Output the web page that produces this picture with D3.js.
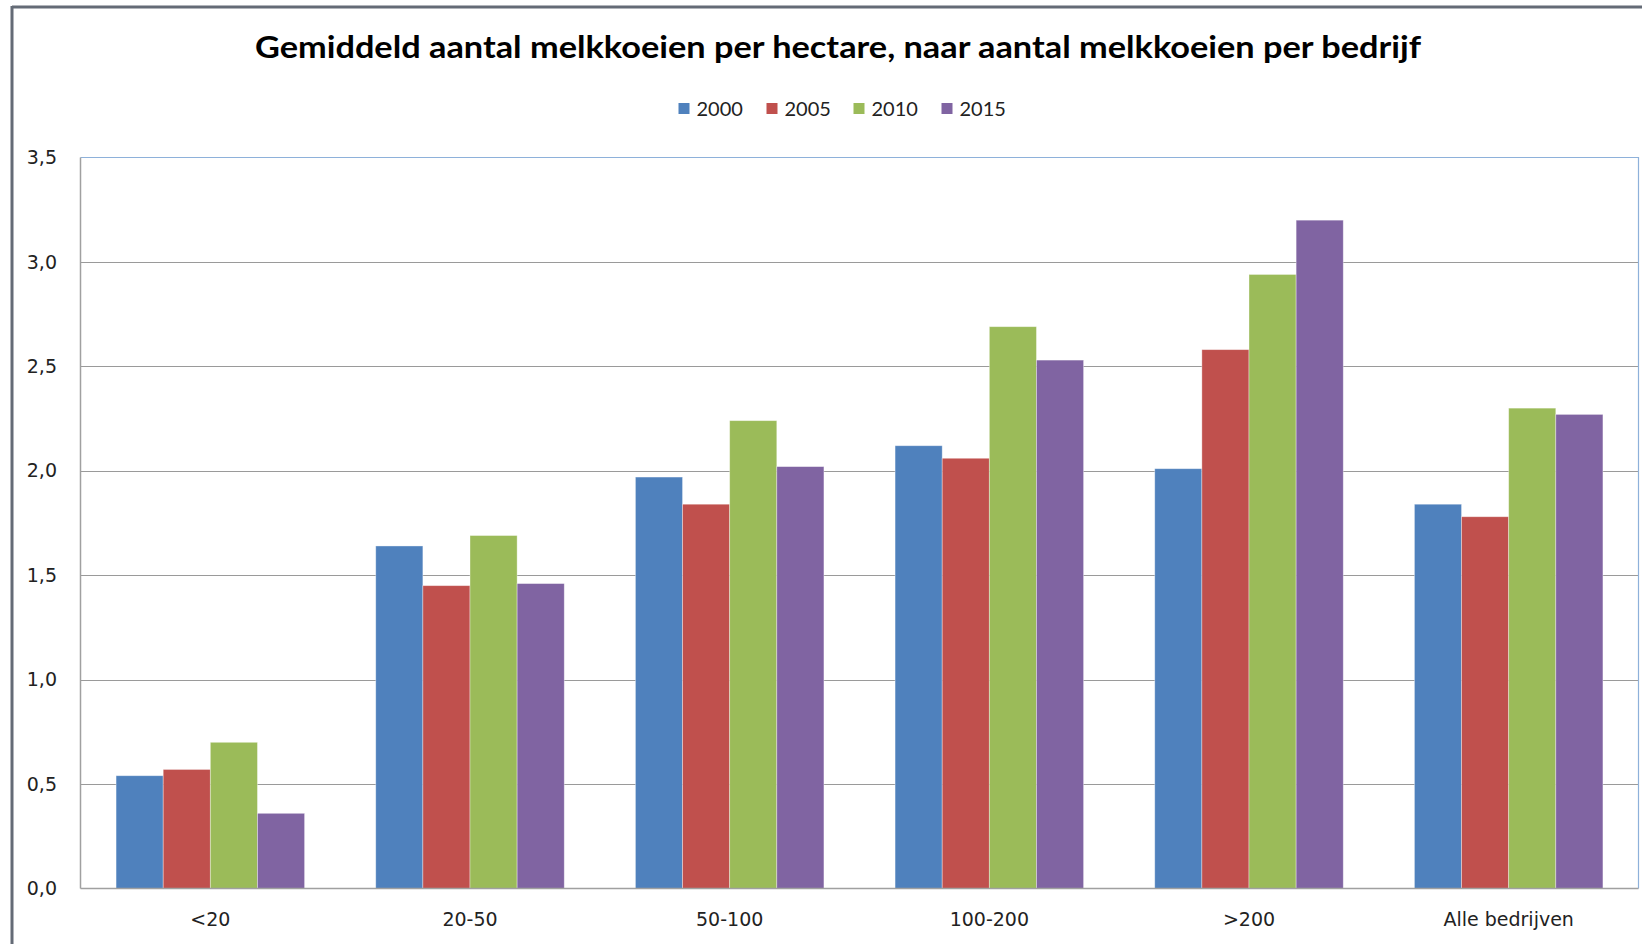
<!DOCTYPE html>
<html><head><meta charset="utf-8">
<script src="https://cdn.jsdelivr.net/npm/d3@7"></script>
<style>body{margin:0;background:#fff}svg{display:block}</style>
</head><body>
<svg id="c" width="1642" height="944"></svg>
<script>
const title = "Gemiddeld aantal melkkoeien per hectare, naar aantal melkkoeien per bedrijf";
const categories = ["<20","20-50","50-100","100-200",">200","Alle bedrijven"];
const seriesNames = ["2000","2005","2010","2015"];
const s2000 = [0.54,1.64,1.97,2.12,2.01,1.84];
const s2005 = [0.57,1.45,1.84,2.06,2.58,1.78];
const s2010 = [0.70,1.69,2.24,2.69,2.94,2.30];
const s2015 = [0.36,1.46,2.02,2.53,3.20,2.27];
const yTicks = [0,0.5,1,1.5,2,2.5,3,3.5];
const colors = ["#4F81BD","#C0504D","#9BBB59","#8064A2"];

const series = [s2000,s2005,s2010,s2015];
const svg = d3.select("#c");
const M = {left:80.5, right:1638.5, top:157.5, bottom:888.5};

// outer frame
svg.append("line").attr("x1",12).attr("x2",1642).attr("y1",7).attr("y2",7).attr("stroke","#646b76").attr("stroke-width",3);
svg.append("line").attr("x1",12).attr("x2",12).attr("y1",6).attr("y2",944).attr("stroke","#646b76").attr("stroke-width",3);

const x0 = d3.scaleBand().domain(categories).range([M.left,M.right]).paddingInner(0.274).paddingOuter(0.137);
const x1 = d3.scaleBand().domain(seriesNames).range([0,x0.bandwidth()]);
const y = d3.scaleLinear().domain([0,3.5]).range([M.bottom,M.top]);

// gridlines
svg.append("g").selectAll("line").data(yTicks.filter(d=>d>0 && d<3.5)).join("line")
  .attr("x1",M.left).attr("x2",M.right).attr("y1",d=>Math.round(y(d))+0.5).attr("y2",d=>Math.round(y(d))+0.5)
  .attr("stroke","#9a9a9a").attr("stroke-width",1);
// plot border top/right blue
svg.append("path").attr("d",`M${M.left},${M.top}H${M.right}V${M.bottom}`).attr("fill","none").attr("stroke","#8eb1da").attr("stroke-width",1.2);

// bars
const g = svg.append("g");
categories.forEach((c,i)=>{
  seriesNames.forEach((s,j)=>{
    const v = series[j][i];
    g.append("rect").attr("x",x0(c)+x1(s)).attr("y",y(v)).attr("width",x1.bandwidth()).attr("height",y(0)-y(v))
      .attr("fill",colors[j]).attr("stroke","rgba(255,255,255,0.45)").attr("stroke-width",0.8);
  });
});

// axes lines
svg.append("line").attr("x1",M.left).attr("x2",M.left).attr("y1",M.top).attr("y2",M.bottom).attr("stroke","#a0a0a0").attr("stroke-width",1.5);
svg.append("line").attr("x1",M.left).attr("x2",M.right).attr("y1",M.bottom).attr("y2",M.bottom).attr("stroke","#a0a0a0").attr("stroke-width",1.5);

// y axis labels via d3 axis
const yAxis = d3.axisLeft(y).tickValues(yTicks).tickSize(0).tickPadding(0).tickFormat(d=>d3.format(".1f")(d).replace(".",","));
const ya = svg.append("g").attr("transform",`translate(57,0)`).call(yAxis);
ya.select(".domain").remove();
ya.selectAll("text").attr("font-family","DejaVu Sans").attr("font-size",19).attr("fill","#222");

// x axis labels
const xAxis = d3.axisBottom(x0).tickSize(0).tickPadding(0);
const xa = svg.append("g").attr("transform",`translate(0,912)`).call(xAxis);
xa.select(".domain").remove();
xa.selectAll("text").attr("font-family","DejaVu Sans").attr("font-size",19).attr("fill","#222");

// title
const t = svg.append("text").attr("x",838).attr("y",58).attr("text-anchor","middle")
  .attr("font-family","Lato").attr("font-weight","bold").attr("font-size",30).attr("fill","#000").text(title);
const tw = t.node().getComputedTextLength();
if (Math.abs(tw-1166)>4) t.attr("textLength",1166).attr("lengthAdjust","spacingAndGlyphs");

// legend
const lx = [678.5,766.5,853.5,941.5];
const lg = svg.append("g");
seriesNames.forEach((s,j)=>{
  lg.append("rect").attr("x",lx[j]).attr("y",103).attr("width",11).attr("height",11).attr("fill",colors[j]);
  lg.append("text").attr("x",lx[j]+18).attr("y",115.5).attr("font-family","Lato").attr("font-size",20).attr("fill","#222").text(s);
});
</script>
</body></html>
